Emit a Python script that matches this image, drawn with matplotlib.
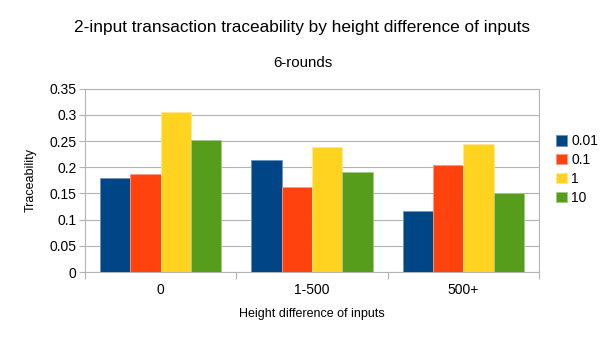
import numpy as np
import matplotlib
matplotlib.use("Agg")
import matplotlib.pyplot as plt

plt.rcParams['font.family'] = ['Liberation Sans', 'DejaVu Sans']

categories = ["0", "1-500", "500+"]
series_names = ["0.01", "0.1", "1", "10"]
vals_001 = [0.179, 0.213, 0.117]
vals_01 = [0.188, 0.163, 0.205]
vals_1 = [0.305, 0.239, 0.245]
vals_10 = [0.252, 0.191, 0.151]
colors = ["#004586", "#ff420e", "#ffd320", "#579d1c"]
edges = ["#6f94bb", "#ff9a80", "#ffe98f", "#a6c98a"]

fig = plt.figure(figsize=(6.05, 3.4), dpi=100)
ax = fig.add_axes([0.1405, 0.2, 0.7505, 0.539])

x = np.arange(len(categories))
w = 0.2
all_vals = [vals_001, vals_01, vals_1, vals_10]
for i, (name, v) in enumerate(zip(series_names, all_vals)):
    ax.bar(x + (i - 1.5) * w, v, w, color=colors[i], edgecolor=edges[i],
           linewidth=0.6, label=name, zorder=3)

ax.set_xlim(-0.5, 2.5)
ax.set_ylim(0, 0.35)
ax.set_yticks(np.arange(0, 0.351, 0.05))
ax.set_yticklabels(["0", "0.05", "0.1", "0.15", "0.2", "0.25", "0.3", "0.35"])
ax.set_xticks(x)
ax.set_xticklabels(categories)
ax.set_xticks([-0.5, 0.5, 1.5, 2.5], minor=True)
ax.tick_params(axis='x', which='major', length=0, labelsize=10, pad=8)
ax.tick_params(axis='x', which='minor', length=5, color='#b3b3b3', width=0.8)
ax.tick_params(axis='y', length=4, color='#b3b3b3', width=0.8, labelsize=10, pad=2)
ax.grid(axis='y', color='#b3b3b3', linewidth=0.8, zorder=0)
for s in ax.spines.values():
    s.set_color('#b3b3b3')
    s.set_linewidth(0.8)

ax.set_ylabel("Traceability", fontsize=9, labelpad=9)
ax.set_xlabel("Height difference of inputs", fontsize=9, labelpad=8)

fig.text(0.5, 0.92, "2-input transaction traceability by height difference of inputs",
         ha='center', va='center', fontsize=12.4)
fig.text(0.5, 0.815, "6-rounds", ha='center', va='center', fontsize=10.8)

leg = ax.legend(loc='center left', bbox_to_anchor=(1.01, 0.56), frameon=False,
                handlelength=0.8, handleheight=0.8, handletextpad=0.3,
                labelspacing=0.35, fontsize=10)

fig.savefig("out.png", dpi=100)
